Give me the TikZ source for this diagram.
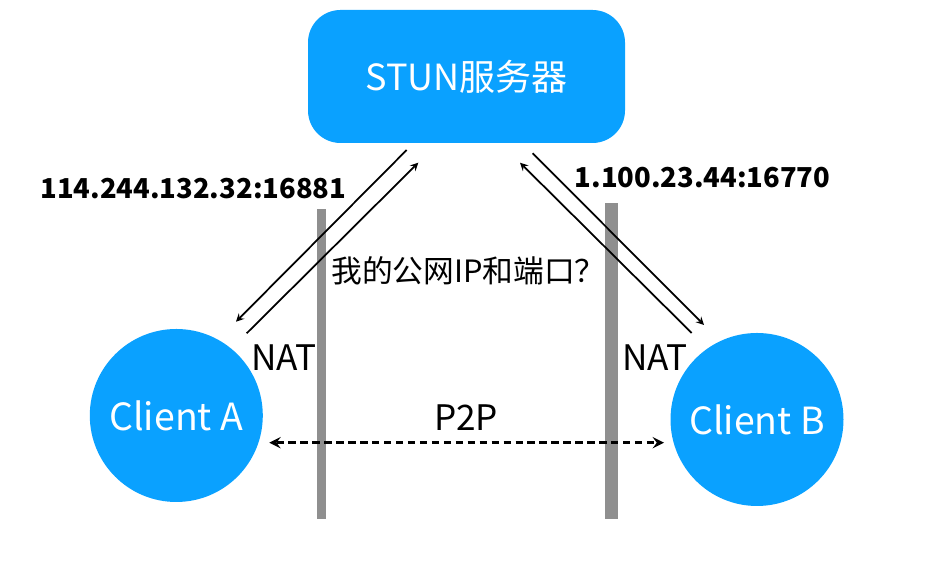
\documentclass[tikz,border=0pt]{standalone}
\usepackage{fontspec}
\setmainfont{Noto Sans CJK SC}
\usepackage{tikz}
\usetikzlibrary{positioning,calc}
\definecolor{stunblue}{RGB}{10,161,255}
\definecolor{natgray}{RGB}{143,143,143}
\tikzset{server/.style={fill=stunblue,text=white,rounded corners=0.65cm,minimum width=6.34cm,minimum height=2.66cm,font=\fontsize{20.5}{24}\selectfont},
         client/.style={circle,fill=stunblue,text=white,minimum size=3.46cm,inner sep=0pt,font=\fontsize{21.3}{24}\selectfont},
         nat/.style={fill=natgray,inner sep=0pt},
         addr/.style={draw=none,font=\bfseries\fontsize{15.6}{19}\selectfont},
         label/.style={draw=none,font=\fontsize{20}{23}\selectfont}
}
\tikzstyle{arrow} = [line width=1pt,->,>=stealth]
\tikzstyle{p2p} = [line width=1.8pt,<->,>=stealth,dash pattern=on 4.2pt off 2.6pt]

\begin{document}
\begin{tikzpicture}
\useasboundingbox (0,0) rectangle (18.84,11.56);

\node[server] (stun) at (9.33,10.03) {STUN服务器};
\node[client] (clienta) at (3.526,3.25) {Client A};
\node[client] (clientb) at (15.14,3.17) {Client B};

\node[nat,minimum width=0.186cm,minimum height=6.19cm] (nata) at (6.426,4.275) {};
\node[nat,minimum width=0.26cm,minimum height=6.31cm] (natb) at (12.234,4.335) {};

\node[addr] (ipa) at (3.866,7.786) {114.244.132.32:16881};
\node[addr] (ipb) at (14.05,8.016) {1.100.23.44:16770};
\node[label,font=\fontsize{17.5}{21}\selectfont] (ask) at (9.37,6.15) {我的公网IP和端口？};
\node[label] (nattexta) at (5.68,4.41) {NAT};
\node[label] (nattextb) at (13.1,4.4) {NAT};
\node[label] (p2ptext) at (9.32,3.2) {P2P};

\coordinate (a1) at (8.134,8.56);
\coordinate (a2) at (4.72,5.126);
\coordinate (a3) at (4.934,4.894);
\coordinate (a4) at (8.366,8.306);
\coordinate (b1) at (13.834,4.9);
\coordinate (b2) at (10.4,8.306);
\coordinate (b3) at (10.654,8.494);
\coordinate (b4) at (14.08,5.06);
\coordinate (pa) at (5.386,2.706);
\coordinate (pb) at (13.28,2.706);

\draw[arrow] (a1)--(a2);
\draw[arrow] (a3)--(a4);
\draw[arrow] (b1)--(b2);
\draw[arrow] (b3)--(b4);
\draw[p2p] (pa)--(pb);

\end{tikzpicture}
\end{document}
